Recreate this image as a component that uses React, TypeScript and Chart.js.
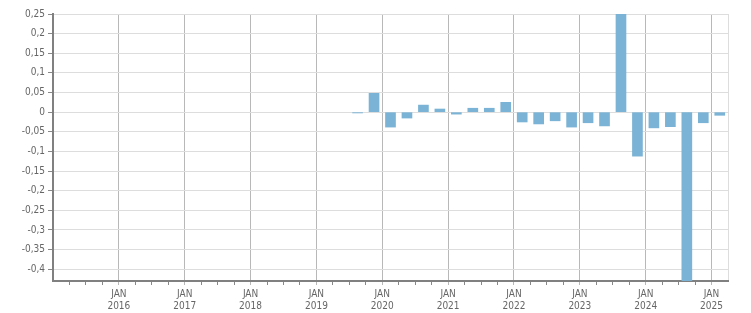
import { useEffect, useRef } from 'react';
import { Chart, registerables } from 'chart.js';

Chart.register(...registerables);

// Quarterly categories and values
const quarters = [
  '2019 Q3', '2019 Q4',
  '2020 Q1', '2020 Q2', '2020 Q3', '2020 Q4',
  '2021 Q1', '2021 Q2', '2021 Q3', '2021 Q4',
  '2022 Q1', '2022 Q2', '2022 Q3', '2022 Q4',
  '2023 Q1', '2023 Q2', '2023 Q3', '2023 Q4',
  '2024 Q1', '2024 Q2', '2024 Q3', '2024 Q4',
  '2025 Q1',
];
const values = [
  -0.002, 0.048,
  -0.038, -0.015, 0.018, 0.008,
  -0.005, 0.01, 0.01, 0.025,
  -0.025, -0.03, -0.022, -0.038,
  -0.027, -0.035, 0.27, -0.112,
  -0.04, -0.037, -0.5, -0.027,
  -0.008,
];

const yTicks = [0.25, 0.2, 0.15, 0.1, 0.05, 0, -0.05, -0.1, -0.15, -0.2, -0.25, -0.3, -0.35, -0.4];
const yMin = -0.43;
const yMax = 0.25;

const startYear = 2015;
const tickYears = [2016, 2017, 2018, 2019, 2020, 2021, 2022, 2023, 2024, 2025];
const xMaxMonths = 123; // Apr 2025, months since Jan 2015

const FONT = "'DejaVu Sans Condensed', 'DejaVu Sans', sans-serif";

function quarterMid(q: string): number {
  const [y, qq] = q.split(' ');
  const qi = parseInt(qq.slice(1), 10) - 1;
  return (parseInt(y, 10) - startYear) * 12 + qi * 3 + 1.5;
}

export default function App() {
  const ref = useRef<HTMLCanvasElement | null>(null);

  useEffect(() => {
    if (!ref.current) return;
    const points = quarters.map((q, i) => ({ x: quarterMid(q), y: values[i] }));
    const xTickValues: number[] = [];
    for (let m = 0; m <= xMaxMonths; m += 3) xTickValues.push(m);

    const chart = new Chart(ref.current, {
      type: 'bar',
      data: {
        datasets: [
          {
            data: points as any,
            backgroundColor: '#7ab3d5',
            borderWidth: 0,
            barThickness: 10,
            clip: 0 as any,
          },
        ],
      },
      options: {
        animation: false,
        responsive: true,
        maintainAspectRatio: false,
        layout: { padding: { top: 14, right: 23, left: 0, bottom: 0 } },
        plugins: { legend: { display: false }, tooltip: { enabled: false } },
        scales: {
          x: {
            type: 'linear',
            min: 0,
            max: xMaxMonths,
            offset: false,
            afterBuildTicks: (scale: any) => {
              scale.ticks = xTickValues.map((v) => ({ value: v }));
            },
            afterFit: (scale: any) => {
              scale.height = 32;
            },
            ticks: {
              autoSkip: false,
              maxRotation: 0,
              minRotation: 0,
              padding: 3,
              color: '#666',
              font: { family: FONT, size: 10, lineHeight: 1.2 },
              callback: (v: any) => {
                const m = Number(v);
                if (m % 12 === 0) {
                  const yr = startYear + m / 12;
                  if (tickYears.includes(yr)) return ['JAN', String(yr)];
                }
                return '';
              },
            },
            grid: {
              offset: false,
              drawOnChartArea: true,
              tickLength: 4,
              lineWidth: 1,
              color: (ctx: any) => {
                const v = ctx.tick ? ctx.tick.value : -1;
                if (v === xMaxMonths) return '#dddddd';
                if (v === 0) return 'transparent';
                return v % 12 === 0 ? '#b8b8b8' : 'transparent';
              },
              tickColor: (ctx: any) => {
                const v = ctx.tick ? ctx.tick.value : -1;
                if (v === xMaxMonths || v === 0) return 'transparent';
                return v % 12 === 0 ? '#b8b8b8' : '#888888';
              },
            },
            border: { display: true, color: '#808080', width: 2 },
          },
          y: {
            type: 'linear',
            min: yMin,
            max: yMax,
            afterBuildTicks: (scale: any) => {
              scale.ticks = yTicks.map((v) => ({ value: v }));
            },
            afterFit: (scale: any) => {
              scale.width = 53;
            },
            ticks: {
              padding: 3,
              color: '#666',
              font: { family: FONT, size: 10 },
              callback: (v: any) => {
                const n = Number(Number(v).toFixed(2));
                return String(n).replace('.', ',');
              },
            },
            grid: {
              color: '#dddddd',
              lineWidth: 1,
              tickLength: 5,
              tickColor: '#888888',
            },
            border: { display: true, color: '#808080', width: 2 },
          },
        },
      },
    });
    return () => chart.destroy();
  }, []);

  return (
    <div style={{ position: 'absolute', left: 0, top: 0, width: 751, height: 313 }}>
      <canvas ref={ref} />
    </div>
  );
}
